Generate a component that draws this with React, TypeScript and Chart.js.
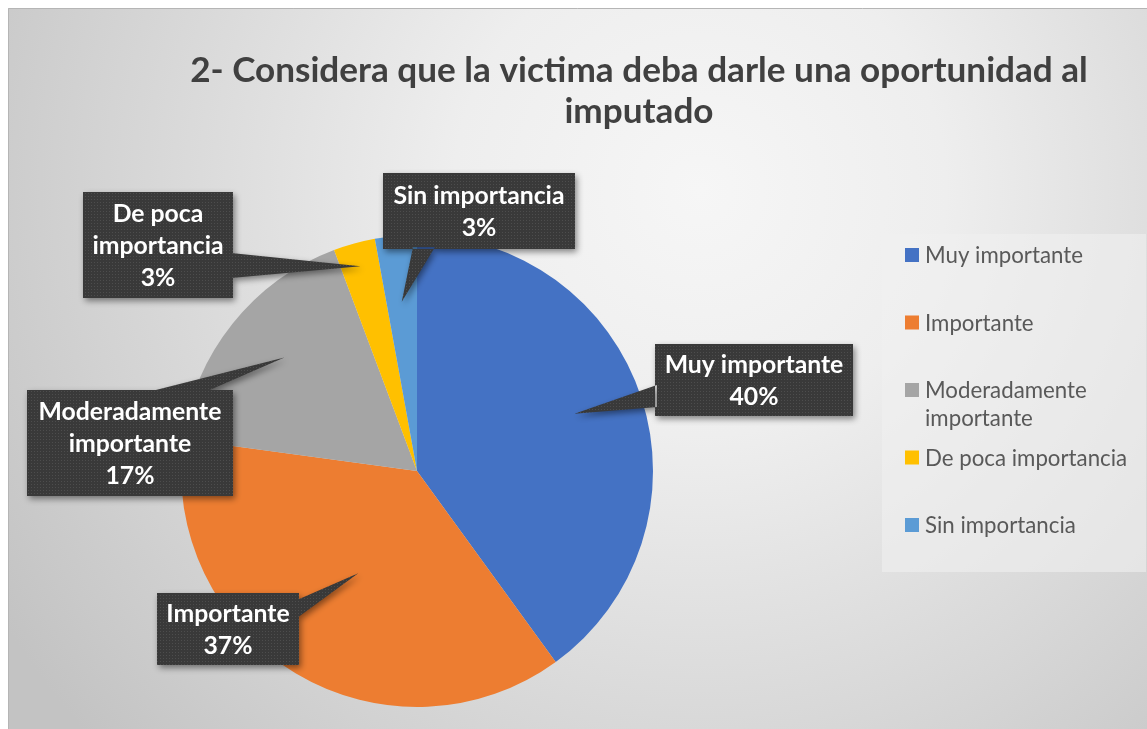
import React, { useEffect, useRef } from 'react';
import { Chart, registerables } from 'chart.js';

Chart.register(...registerables);

// ---------- data ----------
const TITLE_LINES = ['2- Considera que la victima deba darle una oportunidad al', 'imputado'];
const CATEGORIES = ['Muy importante', 'Importante', 'Moderadamente importante', 'De poca importancia', 'Sin importancia'];
const RESPONSES = [14, 13, 6, 1, 1];
const CALLOUT_LINES = [['Muy importante'], ['Importante'], ['Moderadamente', 'importante'], ['De poca', 'importancia'], ['Sin importancia']];

// ---------- styles / layout ----------
const COLORS = ['#4472C4', '#ED7D31', '#A5A5A5', '#FFC000', '#5B9BD5'];
const FONT = 'Lato, Carlito, "Open Sans", sans-serif';
const W = 1147;
const H = 729;

type Callout = { box: number[]; base: number[][]; r: number; da: number };
const CALLOUTS: Callout[] = [
  { box: [655, 344, 198, 72], base: [[657, 385], [657, 407]], r: 0.71, da: -2 },
  { box: [157, 593, 142, 72], base: [[297, 600], [297, 618]], r: 0.5, da: -1 },
  { box: [27, 390, 206, 106], base: [[148, 392], [205, 392]], r: 0.74, da: 2 },
  { box: [83, 192, 150, 106], base: [[231, 253], [231, 278]], r: 0.9, da: 0 },
  { box: [383, 173, 192, 76], base: [[413, 247], [435, 247]], r: 0.72, da: 0 },
];

const LEGEND_BOX = [882, 234, 264, 338];
const LEGEND_X = 905;
const LEGEND_Y0 = 255;
const LEGEND_STEP = 67.5;
const LEGEND_LINE = 28;
const LEGEND_WRAP = 212;

function fitSize(ctx: CanvasRenderingContext2D, text: string, weight: string, target: number) {
  ctx.font = `${weight} 100px ${FONT}`;
  const w = ctx.measureText(text).width;
  return (100 * target) / w;
}

function makePattern(ctx: CanvasRenderingContext2D) {
  const c = document.createElement('canvas');
  c.width = 3;
  c.height = 3;
  const p = c.getContext('2d')!;
  p.fillStyle = '#393939';
  p.fillRect(0, 0, 3, 3);
  p.fillStyle = '#4d4d4d';
  p.fillRect(1, 1, 1, 1);
  return ctx.createPattern(c, 'repeat') || '#3b3b3b';
}

const decorPlugin = {
  id: 'decor',
  beforeDraw(chart: any) {
    const ctx: CanvasRenderingContext2D = chart.ctx;
    ctx.save();
    ctx.fillStyle = '#ffffff';
    ctx.fillRect(0, 0, W, H);
    const g = ctx.createRadialGradient(700, 190, 0, 700, 190, 820);
    g.addColorStop(0, '#f6f6f6');
    g.addColorStop(0.3, '#eeeeee');
    g.addColorStop(1, '#c3c3c3');
    ctx.fillStyle = g;
    ctx.fillRect(8, 8, W - 8, H - 8);
    ctx.strokeStyle = '#b5b5b5';
    ctx.lineWidth = 1;
    ctx.beginPath();
    ctx.moveTo(8.5, H);
    ctx.lineTo(8.5, 8.5);
    ctx.lineTo(W, 8.5);
    ctx.stroke();

    // title
    const ts = fitSize(ctx, TITLE_LINES[0], 'bold', 898);
    ctx.font = `bold ${ts}px ${FONT}`;
    ctx.fillStyle = '#404040';
    ctx.textAlign = 'center';
    ctx.textBaseline = 'alphabetic';
    ctx.fillText(TITLE_LINES[0], 639, 82);
    ctx.fillText(TITLE_LINES[1], 639, 123);
    ctx.restore();
  },
  afterDraw(chart: any) {
    const ctx: CanvasRenderingContext2D = chart.ctx;
    const meta = chart.getDatasetMeta(0);
    const values: number[] = chart.data.datasets[0].data;
    const total = values.reduce((a, b) => a + b, 0);
    const labels: string[] = chart.data.labels;
    const colors: string[] = chart.data.datasets[0].backgroundColor;

    // legend
    ctx.save();
    ctx.fillStyle = 'rgba(240,240,240,0.6)';
    const [lx, ly, lw, lh] = LEGEND_BOX;
    ctx.fillRect(lx, ly, lw, lh);
    const ls = fitSize(ctx, labels[0], 'normal', 158);
    ctx.font = `normal ${ls}px ${FONT}`;
    ctx.textAlign = 'left';
    ctx.textBaseline = 'middle';
    labels.forEach((lab, i) => {
      const y = LEGEND_Y0 + i * LEGEND_STEP;
      ctx.fillStyle = colors[i];
      ctx.fillRect(LEGEND_X, y - 7, 14, 14);
      const words = lab.split(' ');
      const lines: string[] = [];
      let cur = '';
      words.forEach((w) => {
        const t = cur ? cur + ' ' + w : w;
        if (cur && ctx.measureText(t).width > LEGEND_WRAP) {
          lines.push(cur);
          cur = w;
        } else cur = t;
      });
      if (cur) lines.push(cur);
      ctx.fillStyle = '#595959';
      lines.forEach((ln, j) => ctx.fillText(ln, LEGEND_X + 20, y + j * LEGEND_LINE + 1));
    });
    ctx.restore();

    // callouts
    const pattern = makePattern(ctx);
    const cs = fitSize(ctx, 'Moderadamente', 'bold', 183);
    meta.data.forEach((arc: any, i: number) => {
      const c = CALLOUTS[i];
      if (!c) return;
      const p = arc.getProps(['x', 'y', 'startAngle', 'endAngle', 'outerRadius'], true);
      const mid = (p.startAngle + p.endAngle) / 2 + (c.da * Math.PI) / 180;
      const tx = p.x + Math.cos(mid) * p.outerRadius * c.r;
      const ty = p.y + Math.sin(mid) * p.outerRadius * c.r;
      const [bx, by, bw, bh] = c.box;
      ctx.save();
      ctx.shadowColor = 'rgba(0,0,0,0.45)';
      ctx.shadowBlur = 6;
      ctx.shadowOffsetX = 2;
      ctx.shadowOffsetY = 3;
      ctx.fillStyle = pattern;
      ctx.beginPath();
      ctx.rect(bx, by, bw, bh);
      ctx.moveTo(c.base[0][0], c.base[0][1]);
      ctx.lineTo(tx, ty);
      ctx.lineTo(c.base[1][0], c.base[1][1]);
      ctx.closePath();
      ctx.fill();
      ctx.restore();

      ctx.save();
      const lines = [...CALLOUT_LINES[i], `${Math.round((values[i] / total) * 100)}%`];
      ctx.font = `bold ${cs}px ${FONT}`;
      ctx.fillStyle = '#ffffff';
      ctx.textAlign = 'center';
      ctx.textBaseline = 'middle';
      const lhgt = 32;
      const cy = by + bh / 2 - ((lines.length - 1) * lhgt) / 2;
      lines.forEach((ln, j) => ctx.fillText(ln, bx + bw / 2, cy + j * lhgt + 1));
      ctx.restore();
    });
  },
};

export default function App() {
  const ref = useRef<HTMLCanvasElement | null>(null);
  useEffect(() => {
    if (!ref.current) return;
    const chart = new Chart(ref.current, {
      type: 'pie',
      data: {
        labels: CATEGORIES,
        datasets: [
          {
            data: RESPONSES,
            backgroundColor: COLORS,
            borderWidth: 0,
            hoverOffset: 0,
          },
        ],
      },
      options: {
        responsive: false,
        animation: false,
        events: [],
        layout: { padding: { left: 181, right: 494, top: 235, bottom: 22 } },
        plugins: {
          legend: { display: false },
          title: { display: false },
          tooltip: { enabled: false },
        },
      },
      plugins: [decorPlugin],
    } as any);
    return () => chart.destroy();
  }, []);
  return (
    <div style={{ position: 'fixed', left: 0, top: 0, width: W, height: H }}>
      <canvas ref={ref} width={W} height={H} style={{ display: 'block', width: W, height: H }} />
    </div>
  );
}
